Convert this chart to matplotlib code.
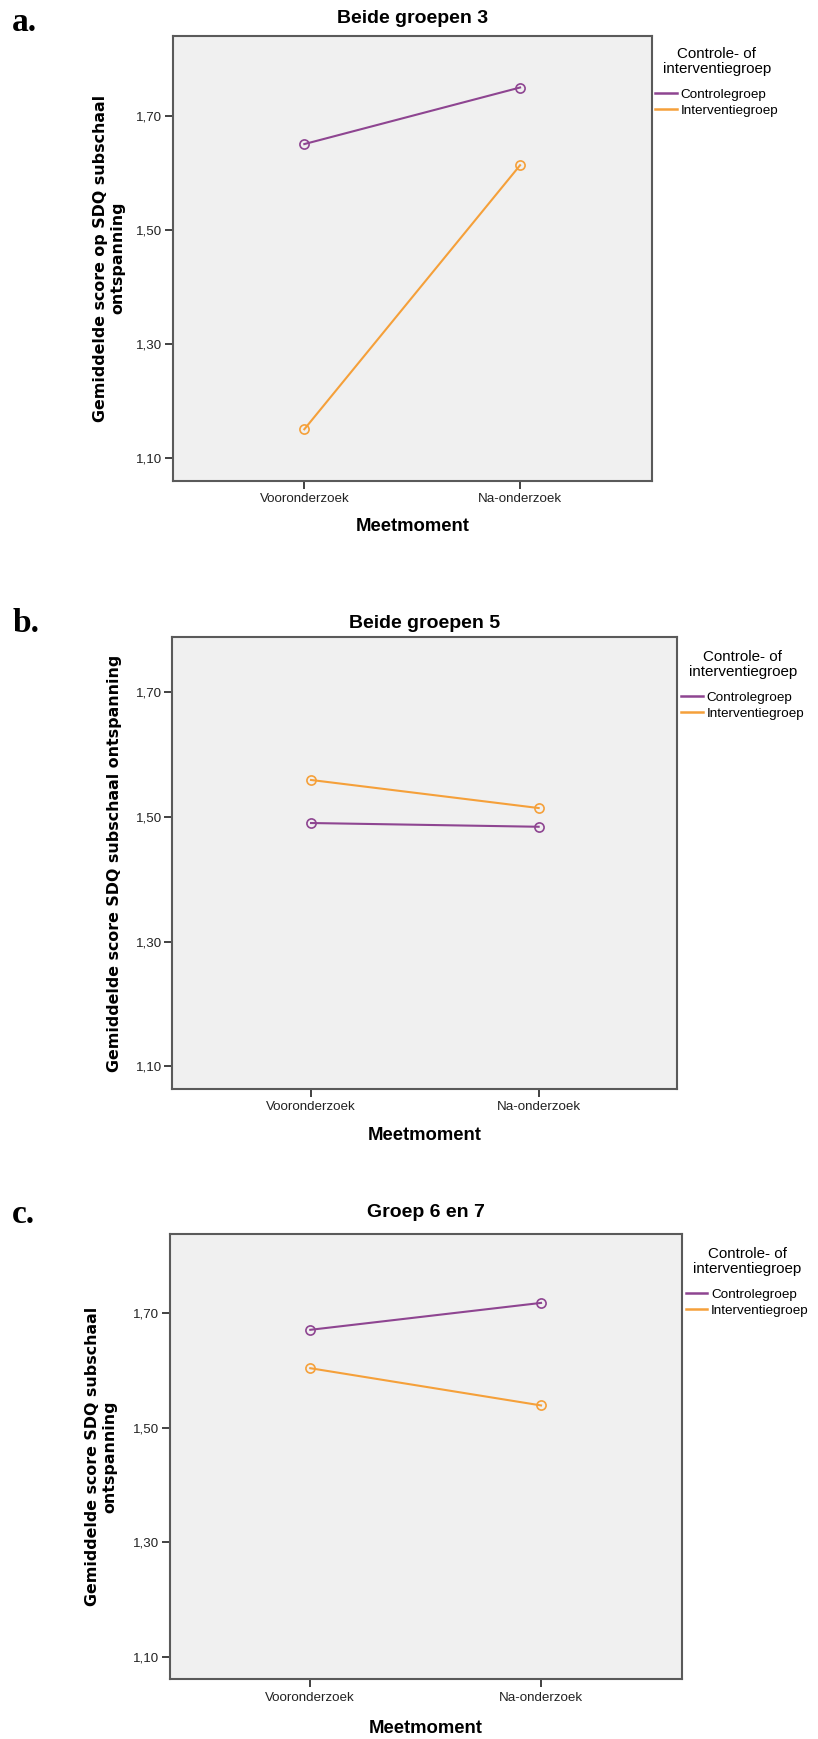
import matplotlib
matplotlib.use("Agg")
import matplotlib.pyplot as plt
from matplotlib.ticker import FixedLocator, FuncFormatter

# ---------------- data ----------------
timepoints = ["Vooronderzoek", "Na-onderzoek"]
groups = ["Controlegroep", "Interventiegroep"]

a_controle = [1.650, 1.749]
a_interventie = [1.151, 1.613]
b_controle = [1.490, 1.484]
b_interventie = [1.559, 1.514]
c_controle = [1.671, 1.718]
c_interventie = [1.604, 1.539]

panel_letters = ["a.", "b.", "c."]
panel_titles = ["Beide groepen 3", "Beide groepen 5", "Groep 6 en 7"]
panel_ylabels = [
    "Gemiddelde score op SDQ subschaal\nontspanning",
    "Gemiddelde score SDQ subschaal ontspanning",
    "Gemiddelde score SDQ subschaal\nontspanning",
]
yticks = [1.10, 1.30, 1.50, 1.70]
legend_title = "Controle- of\ninterventiegroep"
xlabel = "Meetmoment"

# ---------------- style / layout ----------------
W, H = 818, 1739
fig = plt.figure(figsize=(W / 100, H / 100), dpi=100)
fig.patch.set_facecolor("white")

col_ctrl = "#8E4591"
col_int = "#F5A03A"

# pixel boxes: left, right, top, bottom
boxes = [
    (172.7, 651.7, 35.5, 480.7),
    (172.2, 677.5, 637.1, 1088.8),
    (169.5, 681.8, 1233.6, 1679.2),
]
ylims = [(1.061, 1.840), (1.064, 1.788), (1.061, 1.839)]
title_y = [18.6, 623.6, 1212.9]
letter_y = [31.0, 632.5, 1223.0]
letter_x = [11.5, 13.0, 11.7]
ylabel_x = [109.5, 114.8, 101.5]
xlabel_y = [526.7, 1135.7, 1728.3]
legend_left = [655.0, 681.0, 685.5]
legend_top = [47.0, 650.0, 1247.0]

series = [
    (a_controle, a_interventie),
    (b_controle, b_interventie),
    (c_controle, c_interventie),
]

comma_fmt = FuncFormatter(lambda v, p: f"{v:.2f}".replace(".", ","))

for i in range(3):
    l, r, t, b = boxes[i]
    ax = fig.add_axes([l / W, 1 - b / H, (r - l) / W, (b - t) / H])
    ax.set_facecolor("#F0F0F0")
    xs = list(range(len(timepoints)))
    ctrl, inter = series[i]
    ax.plot(xs, ctrl, color=col_ctrl, lw=1.5, marker="o", ms=6.6,
            mfc="none", mec=col_ctrl, mew=1.2, label=groups[0])
    ax.plot(xs, inter, color=col_int, lw=1.5, marker="o", ms=6.6,
            mfc="none", mec=col_int, mew=1.2, label=groups[1])
    ax.set_xlim(-0.61, 1.61)
    ax.set_ylim(*ylims[i])
    ax.set_xticks(xs)
    ax.set_xticklabels(timepoints, fontfamily="Liberation Sans",
                       fontsize=9.6, color="#222222")
    ax.yaxis.set_major_locator(FixedLocator(yticks))
    ax.yaxis.set_major_formatter(comma_fmt)
    for lab in ax.get_yticklabels():
        lab.set_fontfamily("Liberation Sans")
        lab.set_fontsize(9.6)
        lab.set_color("#222222")
    ax.tick_params(axis="both", direction="out", length=6, width=1.3,
                   color="#333333", pad=1.5)
    ax.tick_params(axis="x", pad=3)
    for sp in ax.spines.values():
        sp.set_color("#5a5a5a")
        sp.set_linewidth(1.5)

    # axis labels
    ax.set_xlabel(xlabel, fontfamily="Liberation Sans", fontweight="bold",
                  fontsize=13.3, va="center")
    ax.xaxis.set_label_coords(0.5, (b - xlabel_y[i]) / (b - t))
    ax.set_ylabel(panel_ylabels[i], fontfamily="DejaVu Sans",
                  fontweight="bold", fontsize=11.4, va="center",
                  linespacing=1.2)
    ax.yaxis.set_label_coords((ylabel_x[i] - l) / (r - l), 0.5)

    # title (fixed position, no auto placement)
    ax.set_title(panel_titles[i], fontfamily="Liberation Sans",
                 fontweight="bold", fontsize=14, va="center",
                 y=(b - title_y[i]) / (b - t), pad=0)

    # panel letter
    fig.text(letter_x[i] / W, 1 - letter_y[i] / H, panel_letters[i],
             fontfamily="Liberation Serif", fontweight="bold", fontsize=24,
             ha="left", va="baseline")

    # legend
    leg = ax.legend(title=legend_title, loc="upper left",
                    bbox_to_anchor=(legend_left[i] / W, 1 - legend_top[i] / H),
                    bbox_transform=fig.transFigure, frameon=False,
                    borderpad=0, borderaxespad=0, handlelength=1.6,
                    handletextpad=0.3, labelspacing=0.25,
                    prop={"family": "Liberation Sans", "size": 9.7},
                    title_fontproperties={"family": "Liberation Sans",
                                          "size": 10.9})
    leg.get_title().set_linespacing(1.08)
    leg.get_title().set_multialignment("center")
    leg._legend_box.sep = 9
    for line in leg.get_lines():
        line.set_marker("")
        line.set_linewidth(1.8)

fig.savefig("out.png", dpi=100, facecolor="white")
